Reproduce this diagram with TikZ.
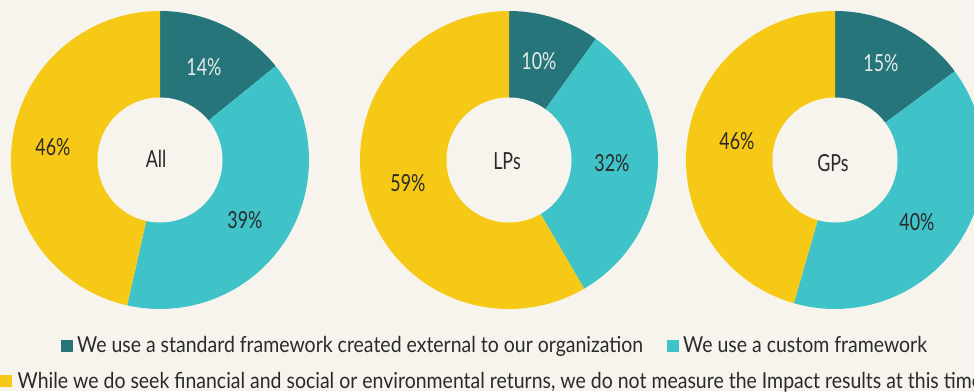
\documentclass[tikz,border=0pt]{standalone}
\usepackage{fontspec}
\setmainfont{Lato}[FakeStretch=0.885]
\newfontfamily\pctfont{Lato}[FakeStretch=0.76]
\usepackage{xcolor}
\usepackage{tikz}

\definecolor{bgcream}{HTML}{F7F4EE}
\definecolor{darkteal}{HTML}{26757A}
\definecolor{lightteal}{HTML}{40C3C8}
\definecolor{sunyellow}{HTML}{F6C916}
\definecolor{labelink}{HTML}{2A2A2A}
\definecolor{paleink}{HTML}{E4ECE8}

\begin{document}
\begin{tikzpicture}[x=1pt,y=1pt,
  pct/.style={font=\pctfont\fontsize{23.5}{28}\selectfont, text=labelink, inner sep=0pt},
  palepct/.style={pct, text=paleink},
  keybox/.style={minimum size=12pt, inner sep=0pt},
  legtext/.style={font=\fontsize{22}{26}\selectfont, text=labelink, anchor=base west, inner sep=0pt}]
\useasboundingbox (0,0) rectangle (974,391);
\fill[bgcream] (0,0) rectangle (974,391);

\foreach \cx/\a/\b/\c in {160/14/39/46, 509/10/32/59, 835/15/40/46} {
\pgfmathsetmacro{\tot}{\a+\b+\c}
\pgfmathsetmacro{\ea}{90-360/\tot*\a}
\pgfmathsetmacro{\eb}{90-360/\tot*(\a+\b)}
\fill[darkteal] (\cx,231) -- ++(90:149) arc[start angle=90, end angle=\ea, radius=149] -- cycle;
\fill[lightteal] (\cx,231) -- ++(\ea:149) arc[start angle=\ea, end angle=\eb, radius=149] -- cycle;
\fill[sunyellow] (\cx,231) -- ++(\eb:149) arc[start angle=\eb, end angle=-270, radius=149] -- cycle;
\fill[bgcream] (\cx,231) circle (62.5);
}

\node[palepct] (allext) at (204,324) {14\%};
\node[pct] (allcust) at (245,171) {39\%};
\node[pct] (allnone) at (53,244) {46\%};
\node[pct] (allname) at (156,232) {All};

\node[palepct] (lpext) at (539,330) {10\%};
\node[pct] (lpcust) at (612,228) {32\%};
\node[pct] (lpnone) at (408,208) {59\%};
\node[pct] (lpname) at (507,230) {LPs};

\node[palepct] (gpext) at (881,328) {15\%};
\node[pct] (gpcust) at (917,169) {40\%};
\node[pct] (gpnone) at (737,250) {46\%};
\node[pct] (gpname) at (833,228) {GPs};

\node[keybox, fill=darkteal] (keyext) at (67,45.2) {};
\node[legtext] (legext) at (77,39) {We use a standard framework created external to our organization};
\node[keybox, fill=lightteal] (keycust) at (673,45.2) {};
\node[legtext] (legcust) at (683,39) {We use a custom framework};
\node[keybox, fill=sunyellow] (keynone) at (5.5,9.7) {};
\node[legtext] (legnone) at (17.5,3) {While we do seek financial and social or environmental returns, we do not measure the Impact results at this time};
\end{tikzpicture}
\end{document}
